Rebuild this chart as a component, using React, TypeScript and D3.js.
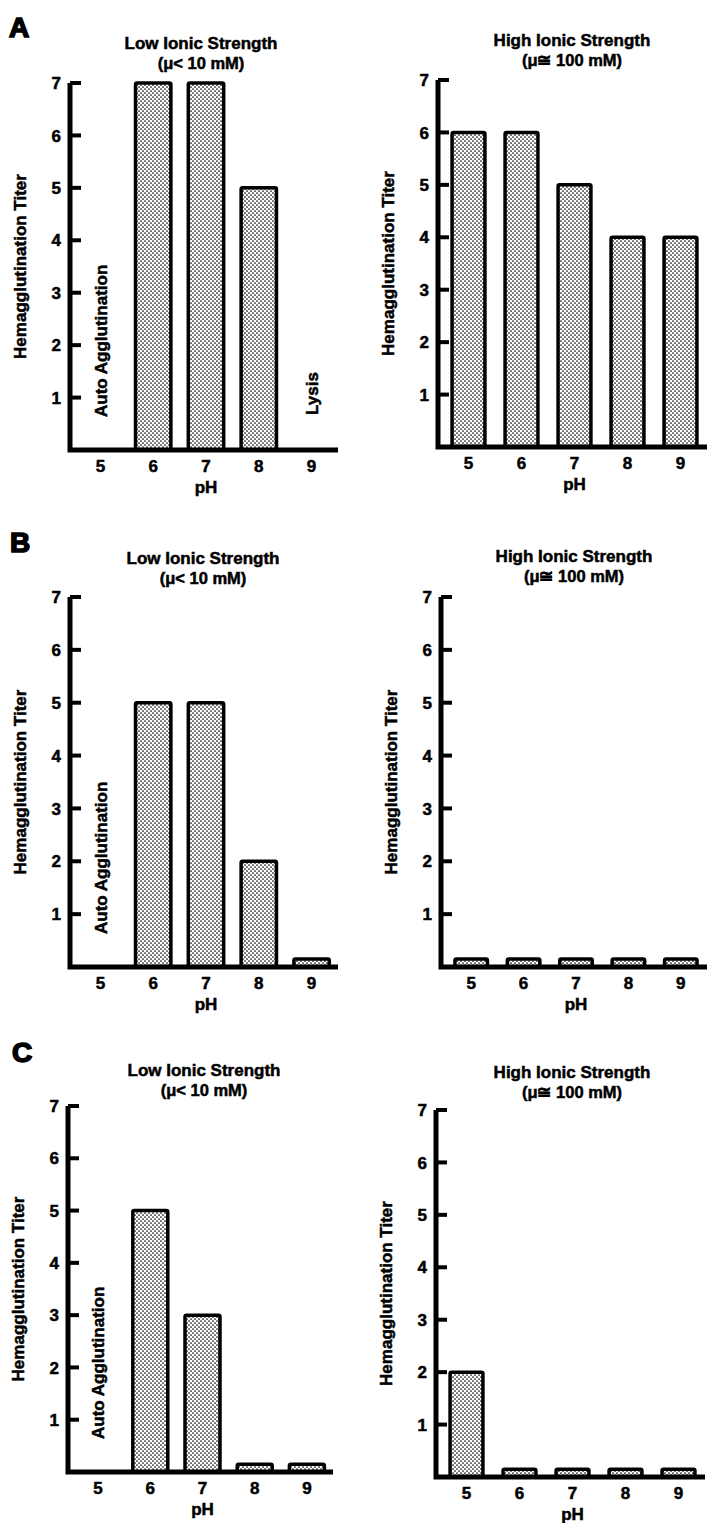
import React from "react";
import * as d3 from "d3";

// pH categories and titer values (null = no bar)
const phLevels = [5, 6, 7, 8, 9];
const yTicks = [1, 2, 3, 4, 5, 6, 7];

const lowA = [null, 7, 7, 5, null];
const highA = [6, 6, 5, 4, 4];
const lowB = [null, 5, 5, 2, 0.15];
const highB = [0.15, 0.15, 0.15, 0.15, 0.15];
const lowC = [null, 5, 3, 0.15, 0.15];
const highC = [2, 0.15, 0.15, 0.15, 0.15];

const lowTitle = ["Low Ionic Strength", "(\u03bc< 10 mM)"];
const highTitle = ["High Ionic Strength", "(\u03bc\u2245 100 mM)"];
const yLabel = "Hemagglutination Titer";
const xLabel = "pH";

const FONT = "'Liberation Sans', Arial, Helvetica, sans-serif";
const FS = 17;

type Note = { ph: number; text: string; lift: number };

type PanelProps = {
  axisX: number;
  y0: number;
  y7: number;
  xEnd: number;
  pad: number;
  values: (number | null)[];
  title: string[];
  titleX: number;
  titleY: number;
  notes?: Note[];
};

const Panel = ({ axisX, y0, y7, xEnd, pad, values, title, titleX, titleY, notes = [] }: PanelProps) => {
  const x = d3.scaleBand<number>()
    .domain(phLevels)
    .range([axisX + 4, xEnd])
    .paddingInner(pad)
    .paddingOuter(pad / 2);
  const y = d3.scaleLinear().domain([0, 7]).range([y0, y7]);
  const cx = (p: number) => x(p)! + x.bandwidth() / 2;

  return (
    <g>
      {/* titles */}
      <text x={titleX} y={titleY} textAnchor="middle" fontSize={FS}>
        {title[0]}
      </text>
      <text x={titleX} y={titleY + 20} textAnchor="middle" fontSize={FS - 0.5}>
        {title[1]}
      </text>

      {/* bars */}
      {values.map((v, i) =>
        v == null ? null : (
          <rect
            key={i}
            x={x(phLevels[i])}
            y={y(v)}
            width={x.bandwidth()}
            height={y(0) - y(v)}
            rx={1.5}
            fill="url(#stipple)"
            stroke="#000"
            strokeWidth={3.5}
          />
        )
      )}

      {/* axes */}
      <path
        d={`M${axisX},${y(7)} V${y(0)} H${xEnd}`}
        fill="none"
        stroke="#000"
        strokeWidth={5}
      />
      {yTicks.map(t => (
        <g key={t}>
          <line x1={axisX} x2={axisX + 11} y1={y(t)} y2={y(t)} stroke="#000" strokeWidth={4} />
          <text x={axisX - 9} y={y(t)} dy="0.36em" textAnchor="end" fontSize={FS}>
            {t}
          </text>
        </g>
      ))}
      {phLevels.map(p => (
        <text key={p} x={cx(p)} y={y0 + 22} textAnchor="middle" fontSize={FS}>
          {p}
        </text>
      ))}
      <text x={cx(7)} y={y0 + 43} textAnchor="middle" fontSize={FS}>
        {xLabel}
      </text>
      <text
        transform={`translate(${axisX - 50},${(y(0) + y(7)) / 2}) rotate(-90)`}
        dy="0.36em"
        textAnchor="middle"
        fontSize={FS}
      >
        {yLabel}
      </text>

      {/* annotations */}
      {notes.map(n => (
        <text
          key={n.text}
          transform={`translate(${cx(n.ph)},${y0 - n.lift}) rotate(-90)`}
          dy="0.36em"
          textAnchor="start"
          fontSize={FS}
        >
          {n.text}
        </text>
      ))}
    </g>
  );
};

const autoNote: Note = { ph: 5, text: "Auto Agglutination", lift: 33 };
const lysisNote: Note = { ph: 9, text: "Lysis", lift: 35 };

export default function App() {
  return (
    <div style={{ position: "absolute", left: 0, top: 0 }}>
      <svg
        width={707}
        height={1523}
        style={{ display: "block", fontFamily: FONT, fontWeight: 700 }}
        stroke="none"
      >
        <defs>
          <pattern id="stipple" width={4} height={4} patternUnits="userSpaceOnUse">
            <rect width={4} height={4} fill="#fff" />
            <circle cx={1} cy={1} r={0.85} fill="#000" />
            <circle cx={3} cy={3} r={0.85} fill="#000" />
          </pattern>
        </defs>

        <g fill="#000" stroke="#000" strokeWidth={0.5}>
          <text x={9} y={37} fontSize={28} strokeWidth={1.6}>A</text>
          <text x={10} y={552} fontSize={28} strokeWidth={1.6}>B</text>
          <text x={12} y={1062} fontSize={28} strokeWidth={1.6}>C</text>

          <Panel axisX={70} y0={450} y7={83} xEnd={338} pad={0.33} values={lowA}
            title={lowTitle} titleX={201} titleY={49} notes={[autoNote, lysisNote]} />
          <Panel axisX={438} y0={447} y7={80} xEnd={707} pad={0.38} values={highA}
            title={highTitle} titleX={572} titleY={46} />

          <Panel axisX={70} y0={967} y7={597} xEnd={338} pad={0.33} values={lowB}
            title={lowTitle} titleX={203} titleY={564} notes={[autoNote]} />
          <Panel axisX={441} y0={967} y7={597} xEnd={707} pad={0.38} values={highB}
            title={highTitle} titleX={574} titleY={562} />

          <Panel axisX={68} y0={1472} y7={1106} xEnd={333} pad={0.33} values={lowC}
            title={lowTitle} titleX={204} titleY={1076} notes={[autoNote]} />
          <Panel axisX={436} y0={1477} y7={1110} xEnd={705} pad={0.38} values={highC}
            title={highTitle} titleX={572} titleY={1078} />
        </g>
      </svg>
    </div>
  );
}
